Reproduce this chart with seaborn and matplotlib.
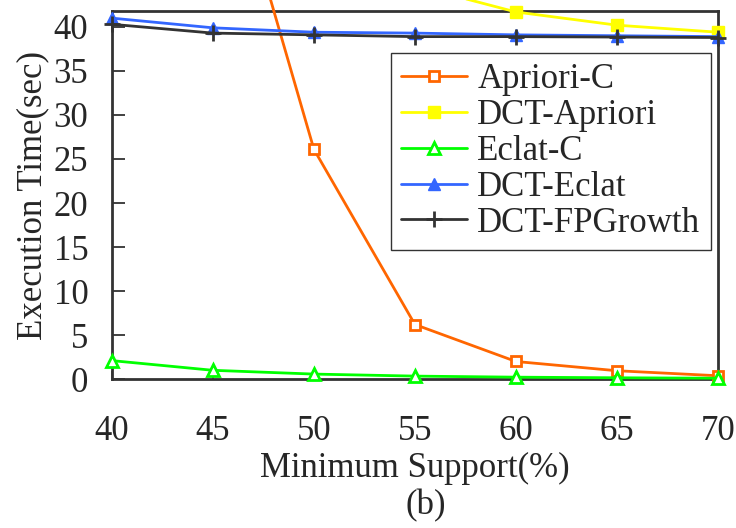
import matplotlib
matplotlib.use("Agg")
import matplotlib.pyplot as plt
import seaborn as sns
import pandas as pd

# Minimum support thresholds (%)
support = [40, 45, 50, 55, 60, 65, 70]

# Execution times (sec) per algorithm
apriori_c = [95.0, 65.7, 26.1, 6.2, 2.0, 0.95, 0.38]
dct_apriori = [62.0, 55.0, 50.0, 44.7, 41.7, 40.2, 39.4]
eclat_c = [2.1, 1.0, 0.57, 0.34, 0.22, 0.15, 0.1]
dct_eclat = [41.0, 39.9, 39.4, 39.3, 39.1, 39.0, 38.9]
dct_fpgrowth = [40.3, 39.3, 39.1, 38.9, 38.9, 38.85, 38.8]

series_names = ["Apriori-C", "DCT-Apriori", "Eclat-C", "DCT-Eclat", "DCT-FPGrowth"]
series_values = [apriori_c, dct_apriori, eclat_c, dct_eclat, dct_fpgrowth]

styles = {
    "Apriori-C": dict(color="#FF6600", marker="s", mfc="white", mec="#FF6600", ms=7, mew=2),
    "DCT-Apriori": dict(color="#FFFF00", marker="s", mfc="#FFFF00", mec="#FFFF00", ms=9, mew=1),
    "Eclat-C": dict(color="#00FF00", marker="^", mfc="white", mec="#00FF00", ms=8, mew=2),
    "DCT-Eclat": dict(color="#3366FF", marker="^", mfc="#3366FF", mec="#3366FF", ms=9, mew=1),
    "DCT-FPGrowth": dict(color="#333333", marker="+", mfc="#333333", mec="#333333", ms=12, mew=2),
}

rows = []
for name, vals in zip(series_names, series_values):
    for s, v in zip(support, vals):
        rows.append({"Minimum Support(%)": s, "Execution Time(sec)": v, "Algorithm": name})
df = pd.DataFrame(rows)

sns.set_style("ticks")
plt.rcParams["font.family"] = ["Liberation Serif", "DejaVu Serif"]

FS = 25

fig = plt.figure(figsize=(7.36, 5.28), dpi=100)
ax = fig.add_axes([0.152, 0.282, 0.8235, 0.697])

for name in series_names:
    st = styles[name]
    sub = df[df["Algorithm"] == name]
    sns.lineplot(data=sub, x="Minimum Support(%)", y="Execution Time(sec)", ax=ax,
                 color=st["color"], marker=st["marker"], markersize=st["ms"],
                 markerfacecolor=st["mfc"], markeredgecolor=st["mec"],
                 markeredgewidth=st["mew"], linewidth=2.0, label=name,
                 clip_on=False, zorder=3)

ax.set_xlim(40, 70)
ax.set_ylim(0, 41.8)
ax.set_xticks(support)
ax.set_yticks(range(0, 41, 5))

for sp in ax.spines.values():
    sp.set_color("#333333")
    sp.set_linewidth(2.0)
    sp.set_zorder(2)

ax.tick_params(axis="y", direction="in", length=9, width=1.3, color="#333333",
               labelsize=FS, pad=17)
ax.tick_params(axis="x", direction="in", length=6, width=1.3, color="#555555",
               labelsize=FS, pad=26)

ax.set_xlabel("Minimum Support(%)", fontsize=FS, labelpad=3)
ax.set_ylabel("Execution Time(sec)", fontsize=FS, labelpad=3)

leg = ax.legend(loc="upper right", bbox_to_anchor=(0.966, 0.8996),
                bbox_transform=fig.transFigure, fontsize=FS, frameon=True,
                fancybox=False, framealpha=1, edgecolor="#333333",
                handlelength=1.9, handletextpad=0.3, labelspacing=0.08,
                borderpad=0.3, borderaxespad=0)
leg.get_frame().set_linewidth(1.0)

fig.text(0.578, 0.042, "(b)", fontsize=FS, ha="center", va="center")

fig.savefig("out.png", dpi=100)
